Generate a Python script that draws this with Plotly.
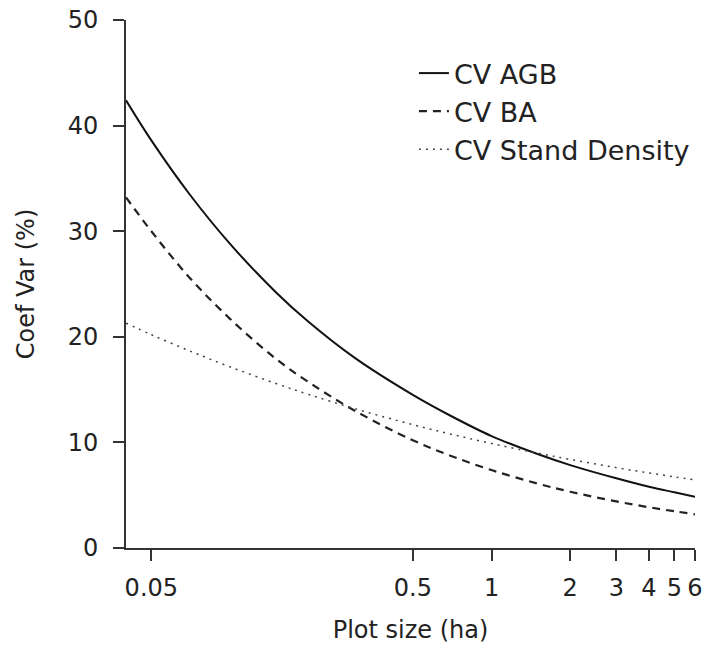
import math
import plotly.graph_objects as go

plot_size = [0.04, 0.05, 0.07, 0.1, 0.15, 0.2, 0.3, 0.5, 0.7, 1, 1.5, 2, 3, 4, 5, 6]
cv_agb = [42.4, 38.6, 33.5, 28.8, 24.2, 21.4, 18.0, 14.5, 12.5, 10.6, 8.9, 7.85, 6.6, 5.8, 5.28, 4.86]
cv_ba = [33.2, 30.0, 25.6, 21.7, 17.9, 15.7, 13.0, 10.2, 8.72, 7.38, 6.1, 5.33, 4.41, 3.86, 3.48, 3.19]
cv_density = [21.3, 20.2, 18.67, 17.15, 15.57, 14.54, 13.19, 11.68, 10.78, 9.9, 8.98, 8.39, 7.61, 7.11, 6.74, 6.45]

x_tickvals = [0.05, 0.5, 1, 2, 3, 4, 5, 6]
x_ticktext = ["0.05", "0.5", "1", "2", "3", "4", "5", "6"]
y_tickvals = [0, 10, 20, 30, 40, 50]

FONT = "DejaVu Sans, Verdana, sans-serif"

fig = go.Figure()
fig.add_trace(go.Scatter(x=plot_size, y=cv_agb, mode="lines", name="CV AGB",
                         line=dict(color="#111111", width=2, shape="spline")))
fig.add_trace(go.Scatter(x=plot_size, y=cv_ba, mode="lines", name="CV BA",
                         line=dict(color="#222222", width=2.2, dash="8px,6px", shape="spline")))
fig.add_trace(go.Scatter(x=plot_size, y=cv_density, mode="lines", name="CV Stand Density",
                         line=dict(color="#444444", width=1.5, dash="2px,5px", shape="spline")))

fig.update_layout(
    width=707, height=647,
    margin=dict(l=126, r=12, t=20, b=99),
    paper_bgcolor="white", plot_bgcolor="white",
    font=dict(family=FONT, color="#222222", size=24),
    legend=dict(x=0.506, y=0.945, xanchor="left", yanchor="top",
                bgcolor="rgba(0,0,0,0)", font=dict(size=27, family=FONT),
                tracegroupgap=0),
    showlegend=True,
)
fig.update_xaxes(
    type="log", range=[math.log10(0.04), math.log10(6)],
    tickvals=x_tickvals, ticktext=x_ticktext,
    showgrid=False, zeroline=False, automargin=False,
    showline=True, linecolor="#333333", linewidth=2,
    ticks="outside", ticklen=11, tickwidth=2, tickcolor="#333333",
    tickfont=dict(size=24), ticklabelstandoff=6,
    title=dict(text="Plot size (ha)", font=dict(size=24), standoff=20),
)
fig.update_yaxes(
    range=[0, 50], tickvals=y_tickvals,
    showgrid=False, zeroline=False, automargin=False,
    showline=True, linecolor="#333333", linewidth=2,
    ticks="outside", ticklen=11, tickwidth=2, tickcolor="#333333",
    tickfont=dict(size=24), ticklabelstandoff=10,
    title=dict(text="Coef Var (%)", font=dict(size=24), standoff=26),
)

fig.write_html("out.html")
